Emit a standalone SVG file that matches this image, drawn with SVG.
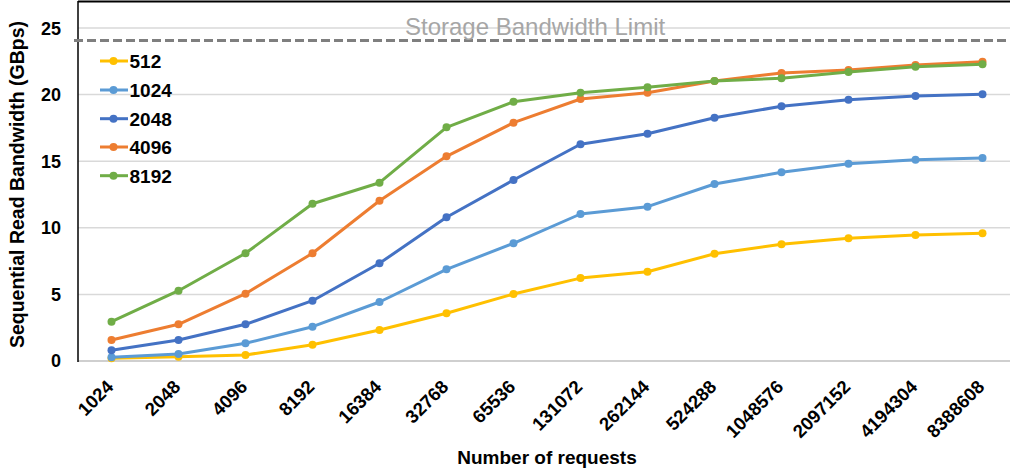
<svg xmlns="http://www.w3.org/2000/svg" width="1010" height="469" viewBox="0 0 1010 469">
  <style>
    text { font-family: "Liberation Sans", Arial, sans-serif; fill: #000; }
    .tick { font-size: 18px; font-weight: bold; text-anchor: end; }
    .xtick { font-size: 18.5px; font-weight: bold; text-anchor: end; }
    .title { font-size: 19px; font-weight: bold; text-anchor: middle; }
    .ytitle { font-size: 19.5px; }
    .leg { font-size: 19px; font-weight: bold; }
    .grid { stroke: #d9d9d9; stroke-width: 1.5; }
    .series { fill: none; stroke-width: 3; stroke-linejoin: round; stroke-linecap: round; }
    .s512 { stroke: #FFC000; marker-start: url(#m512); marker-mid: url(#m512); marker-end: url(#m512); }
    .s1024 { stroke: #5B9BD5; marker-start: url(#m1024); marker-mid: url(#m1024); marker-end: url(#m1024); }
    .s2048 { stroke: #4472C4; marker-start: url(#m2048); marker-mid: url(#m2048); marker-end: url(#m2048); }
    .s4096 { stroke: #ED7D31; marker-start: url(#m4096); marker-mid: url(#m4096); marker-end: url(#m4096); }
    .s8192 { stroke: #70AD47; marker-start: url(#m8192); marker-mid: url(#m8192); marker-end: url(#m8192); }
    .legline { fill: none; stroke-width: 3; }
  </style>
  <defs>
    <marker id="m512" markerUnits="userSpaceOnUse" markerWidth="10" markerHeight="10" refX="5" refY="5" viewBox="0 0 10 10"><circle cx="5" cy="5" r="4" fill="#FFC000"/></marker>
    <marker id="m1024" markerUnits="userSpaceOnUse" markerWidth="10" markerHeight="10" refX="5" refY="5" viewBox="0 0 10 10"><circle cx="5" cy="5" r="4" fill="#5B9BD5"/></marker>
    <marker id="m2048" markerUnits="userSpaceOnUse" markerWidth="10" markerHeight="10" refX="5" refY="5" viewBox="0 0 10 10"><circle cx="5" cy="5" r="4" fill="#4472C4"/></marker>
    <marker id="m4096" markerUnits="userSpaceOnUse" markerWidth="10" markerHeight="10" refX="5" refY="5" viewBox="0 0 10 10"><circle cx="5" cy="5" r="4" fill="#ED7D31"/></marker>
    <marker id="m8192" markerUnits="userSpaceOnUse" markerWidth="10" markerHeight="10" refX="5" refY="5" viewBox="0 0 10 10"><circle cx="5" cy="5" r="4" fill="#70AD47"/></marker>
  </defs>

  <rect width="1010" height="469" fill="#fff"/>

  <!-- gridlines at 5 GBps steps -->
  <g id="grid">
    <line class="grid" x1="78" y1="28" x2="1010" y2="28"/>
    <line class="grid" x1="78" y1="94.6" x2="1010" y2="94.6"/>
    <line class="grid" x1="78" y1="161.2" x2="1010" y2="161.2"/>
    <line class="grid" x1="78" y1="227.8" x2="1010" y2="227.8"/>
    <line class="grid" x1="78" y1="294.4" x2="1010" y2="294.4"/>
  </g>

  <!-- frame and axes -->
  <g id="axes">
    <line x1="78" y1="1.5" x2="1010" y2="1.5" stroke="#000" stroke-width="2"/>
    <line x1="78" y1="361" x2="1010" y2="361" stroke="#cfcfcf" stroke-width="2"/>
    <line x1="78" y1="1" x2="78" y2="362" stroke="#000" stroke-width="1.5"/>
  </g>

  <!-- storage limit -->
  <g id="limit">
    <line x1="74" y1="40.5" x2="1010" y2="40.5" stroke="#7f7f7f" stroke-width="3" stroke-dasharray="9 4"/>
    <text x="405" y="35" font-size="24" style="fill:#a6a6a6">Storage Bandwidth Limit</text>
  </g>

  <!-- y tick labels -->
  <g id="yticks">
    <text class="tick" x="61" y="34.5">25</text>
    <text class="tick" x="61" y="101">20</text>
    <text class="tick" x="61" y="167.5">15</text>
    <text class="tick" x="61" y="234">10</text>
    <text class="tick" x="61" y="300.5">5</text>
    <text class="tick" x="61" y="367">0</text>
  </g>

  <!-- x tick labels -->
  <g id="xticks">
    <text class="xtick" transform="translate(114.5,388) rotate(-45)">1024</text>
    <text class="xtick" transform="translate(181.5,388) rotate(-45)">2048</text>
    <text class="xtick" transform="translate(248.5,388) rotate(-45)">4096</text>
    <text class="xtick" transform="translate(315.5,388) rotate(-45)">8192</text>
    <text class="xtick" transform="translate(382.5,388) rotate(-45)">16384</text>
    <text class="xtick" transform="translate(449.5,388) rotate(-45)">32768</text>
    <text class="xtick" transform="translate(516.5,388) rotate(-45)">65536</text>
    <text class="xtick" transform="translate(583.5,388) rotate(-45)">131072</text>
    <text class="xtick" transform="translate(650.5,388) rotate(-45)">262144</text>
    <text class="xtick" transform="translate(717.5,388) rotate(-45)">524288</text>
    <text class="xtick" transform="translate(784.5,388) rotate(-45)">1048576</text>
    <text class="xtick" transform="translate(851.5,388) rotate(-45)">2097152</text>
    <text class="xtick" transform="translate(918.5,388) rotate(-45)">4194304</text>
    <text class="xtick" transform="translate(985.5,388) rotate(-45)">8388608</text>
  </g>

  <!-- axis titles -->
  <g id="titles">
    <text class="title" x="547" y="464">Number of requests</text>
    <text class="title ytitle" transform="translate(24,184.5) rotate(-90)">Sequential Read Bandwidth (GBps)</text>
  </g>

  <!-- data series -->
  <g id="series">
    <polyline id="series-512" class="series s512" points="111.5,358.3 178.5,356.7 245.5,355 312.5,344.7 379.5,330 446.5,313.3 513.5,294 580.5,278.1 647.5,271.7 714.5,253.8 781.5,244.3 848.5,238.3 915.5,235 982.5,233.3"/>
    <polyline id="series-1024" class="series s1024" points="111.5,357.3 178.5,354 245.5,343.3 312.5,326.7 379.5,302 446.5,269.3 513.5,243.3 580.5,214 647.5,206.7 714.5,184 781.5,172.3 848.5,163.7 915.5,159.7 982.5,158"/>
    <polyline id="series-2048" class="series s2048" points="111.5,350.3 178.5,340 245.5,324.3 312.5,300.7 379.5,263.3 446.5,217.3 513.5,180 580.5,144.3 647.5,133.7 714.5,117.7 781.5,106.3 848.5,99.7 915.5,96 982.5,94.3"/>
    <polyline id="series-4096" class="series s4096" points="111.5,340 178.5,324.3 245.5,293.7 312.5,253.3 379.5,200.7 446.5,156.3 513.5,122.7 580.5,99 647.5,92.7 714.5,81 781.5,73 848.5,70 915.5,65 982.5,61.7"/>
    <polyline id="series-8192" class="series s8192" points="111.5,321.7 178.5,290.7 245.5,253.3 312.5,203.7 379.5,182.7 446.5,127.3 513.5,101.7 580.5,92.7 647.5,87.3 714.5,81 781.5,78.3 848.5,72 915.5,66.7 982.5,64.3"/>
  </g>

  <!-- legend -->
  <g id="legend">
    <g id="legend-512">
      <path class="legline" stroke="#FFC000" d="M100 61 H113.5 H128" marker-mid="url(#m512)"/>
      <text class="leg" x="129.5" y="67.8">512</text>
    </g>
    <g id="legend-1024">
      <path class="legline" stroke="#5B9BD5" d="M100 90 H113.5 H128" marker-mid="url(#m1024)"/>
      <text class="leg" x="129.5" y="96.8">1024</text>
    </g>
    <g id="legend-2048">
      <path class="legline" stroke="#4472C4" d="M100 118.7 H113.5 H128" marker-mid="url(#m2048)"/>
      <text class="leg" x="129.5" y="125.5">2048</text>
    </g>
    <g id="legend-4096">
      <path class="legline" stroke="#ED7D31" d="M100 147 H113.5 H128" marker-mid="url(#m4096)"/>
      <text class="leg" x="129.5" y="153.8">4096</text>
    </g>
    <g id="legend-8192">
      <path class="legline" stroke="#70AD47" d="M100 175.7 H113.5 H128" marker-mid="url(#m8192)"/>
      <text class="leg" x="129.5" y="182.5">8192</text>
    </g>
  </g>
</svg>
